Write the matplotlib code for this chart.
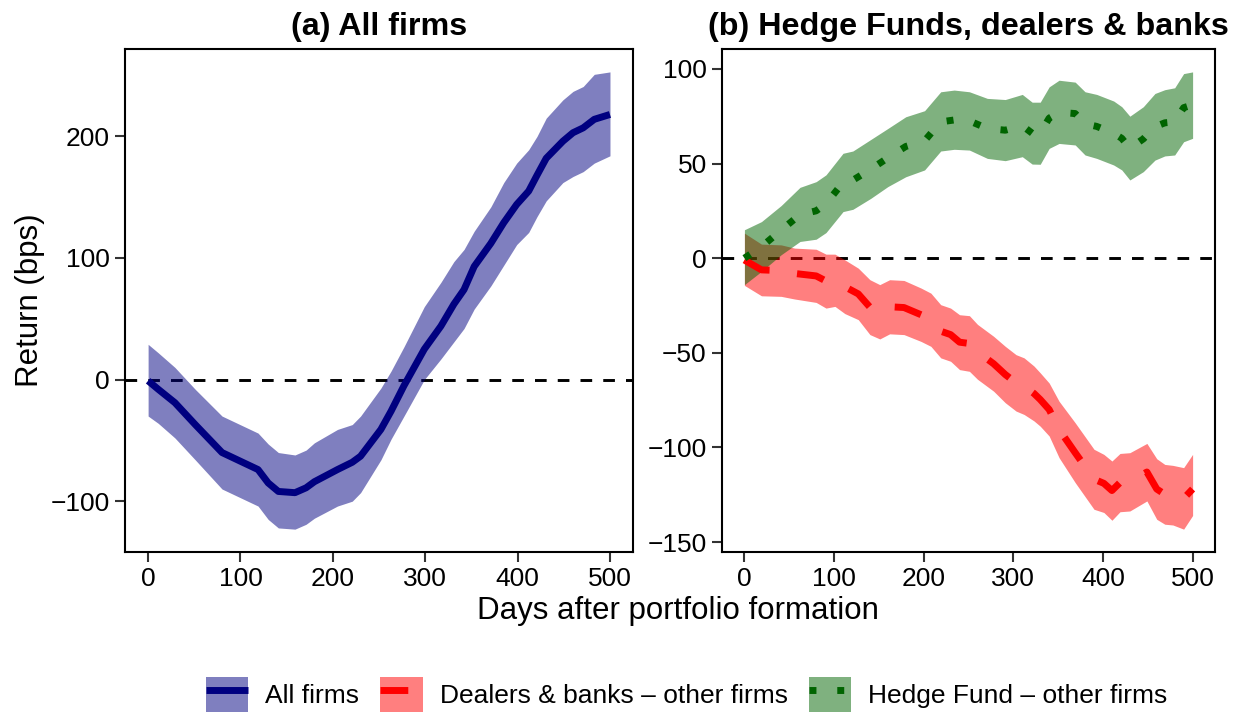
import matplotlib
matplotlib.use("Agg")
import matplotlib.pyplot as plt
from matplotlib.patches import Patch
from matplotlib.lines import Line2D

plt.rcParams['font.family'] = ['Liberation Sans', 'DejaVu Sans']

# ---------------- Panel (a): All firms ----------------
days_a = [0, 11, 29, 51, 80, 119, 130, 141, 159, 171, 180, 205, 221, 230, 252, 263, 277,
          299, 317, 331, 342, 353, 371, 385, 399, 412, 421, 431, 449, 460, 471, 483, 500]
mean_a = [-1, -8, -19, -37, -60, -74, -85, -92, -93, -89, -84, -74, -68, -63, -41, -26, -5,
          25, 44, 62, 74, 93, 112, 129, 144, 155, 168, 182, 196, 203, 207, 214, 218]
hi_a = [29, 22, 10, -8, -30, -44, -53, -60, -62, -58, -52, -41, -37, -30, -7, 7, 27,
        60, 80, 97, 107, 122, 142, 162, 178, 189, 200, 215, 230, 237, 241, 251, 253]
lo_a = [-30, -36, -48, -66, -90, -104, -115, -122, -123, -119, -114, -104, -100, -93, -66, -49, -30,
        0, 17, 31, 42, 58, 77, 94, 111, 121, 134, 147, 162, 167, 171, 178, 184]

# ---------------- Panel (b): Dealers & banks - other firms ----------------
days_d = [0, 19, 41, 56, 80, 91, 101, 112, 127, 140, 151, 162, 178, 197, 208, 219, 230, 240, 251, 260,
          278, 291, 303, 312, 323, 330, 340, 351, 369, 390, 401, 410, 419, 430, 449, 460, 469, 478, 490, 500]
mean_d = [-1, -6.2, -6.6, -8.1, -9.4, -12.1, -11.7, -15.1, -18.9, -25.9, -28.4, -25.7, -26.1, -29.9,
          -32.5, -38.6, -40.4, -44.4, -45.1, -49.5, -55.8, -61.5, -65.9, -67.6, -71.5, -74.7, -80,
          -90.5, -102.8, -116.8, -119, -122.8, -118.6, -118.2, -113, -122, -124.8, -125.2, -127, -122]
hi_d = [13.2, 7.4, 7, 5.3, 4.7, 2.1, 2.1, -0.9, -5.3, -11.4, -14, -11.4, -11.8, -15.8, -18.5, -24.6,
        -26.4, -29.9, -30.4, -35, -41.3, -46.6, -51, -52.7, -57, -60.6, -66, -75.6, -87, -101,
        -103.7, -107.2, -103.2, -102.8, -97.9, -106, -109, -109.5, -110.7, -103.7]
lo_d = [-14.4, -19.9, -20.2, -21.6, -23.4, -26.4, -25.5, -29.3, -32.5, -40.4, -42.7, -40, -40.4, -44,
        -46.6, -52.7, -54.5, -58.9, -59.8, -64, -70.3, -76.4, -80.8, -82.6, -86, -88.8, -94, -105.4,
        -118.6, -132.7, -134.4, -138.5, -134, -133.6, -128.3, -138, -140.6, -141, -143.2, -136]

# ---------------- Panel (b): Hedge Fund - other firms ----------------
days_h = [0, 19, 41, 62, 80, 91, 110, 121, 141, 160, 180, 201, 219, 234, 251, 271, 291, 310, 321, 330,
          340, 351, 369, 380, 393, 412, 421, 430, 445, 458, 469, 480, 490, 500]
mean_h = [0, 6, 14.8, 23, 25, 28.7, 40, 41.2, 47, 53, 59, 62, 72, 73, 72.5, 68.5, 67.6, 70, 66, 66,
          74, 77, 76.4, 71, 69.6, 66, 63.3, 58, 63, 69.4, 71.5, 72, 79.5, 81]
hi_h = [15, 19.3, 27.8, 37.4, 40.4, 44, 55.4, 56.6, 62.7, 68.5, 74.7, 77.9, 87.9, 88.8, 87.9, 84.4,
        83.8, 86.5, 82.4, 82.4, 90.5, 94, 93, 87.9, 86.5, 83, 80, 75, 80, 87, 89, 90, 97.5, 98.4]
lo_h = [-14, -7, 1.8, 8.8, 10, 13.5, 24.6, 25.8, 31.6, 37.8, 43, 46.6, 56.6, 57.5, 57.1, 52.7,
        51.5, 53.6, 49.7, 49.6, 58, 60.6, 59.8, 54.5, 52.7, 49.2, 46.6, 41.3, 45.7, 51.8, 54, 54.5, 61.5, 63.3]

xticks = [0, 100, 200, 300, 400, 500]
yticks_a = [-100, 0, 100, 200]
yticks_b = [-150, -100, -50, 0, 50, 100]

titles = ["(a) All firms", "(b) Hedge Funds, dealers & banks"]
labels = ["All firms", "Dealers & banks \u2013 other firms", "Hedge Fund \u2013 other firms"]

NAVY = "#000080"
RED = "#FF0000"
DKGREEN = "#006400"

fig = plt.figure(figsize=(12.44, 7.17), dpi=100)
ax1 = fig.add_axes([0.1005, 0.2301, 0.4084, 0.7015])
ax2 = fig.add_axes([0.5804, 0.2301, 0.3963, 0.7015])

LW = 5.0
TICKFS = 19
TITLEFS = 23.2
LABELFS = 22.5

# Panel a
ax1.axhline(0, color="black", lw=2.1, dashes=(4, 3.8), zorder=1)
ax1.fill_between(days_a, lo_a, hi_a, color=NAVY, alpha=0.5, linewidth=0, zorder=2)
ax1.plot(days_a, mean_a, color=NAVY, lw=LW, solid_capstyle="butt", zorder=3)

# Panel b
ax2.axhline(0, color="black", lw=2.1, dashes=(4, 3.8), zorder=1)
ax2.fill_between(days_d, lo_d, hi_d, color=RED, alpha=0.5, linewidth=0, zorder=2)
ax2.fill_between(days_h, lo_h, hi_h, color=DKGREEN, alpha=0.5, linewidth=0, zorder=2)
ax2.plot(days_d, mean_d, color=RED, lw=LW, dashes=(4, 4), dash_capstyle="butt", zorder=3)
ax2.plot(days_h, mean_h, color=DKGREEN, lw=LW, dashes=(1, 3), dash_capstyle="butt", zorder=3)

for ax, yt, t in [(ax1, yticks_a, titles[0]), (ax2, yticks_b, titles[1])]:
    ax.set_xticks(xticks)
    ax.set_yticks(yt)
    ax.margins(x=0.05, y=0.05)
    ax.tick_params(axis="both", labelsize=TICKFS, length=7, width=1.5, color="#333333",
                   labelcolor="black", pad=4)
    for s in ax.spines.values():
        s.set_linewidth(1.5)
        s.set_color("black")
    ax.set_title(t, fontsize=TITLEFS, fontweight="bold", pad=10)

ax1.set_ylabel("Return (bps)", fontsize=LABELFS)
fig.text(0.545, 0.148, "Days after portfolio formation", fontsize=LABELFS, ha="center", va="center")

handles = [
    (Patch(facecolor=NAVY, alpha=0.5, linewidth=0),
     Line2D([], [], color=NAVY, lw=LW, solid_capstyle="butt")),
    (Patch(facecolor=RED, alpha=0.5, linewidth=0),
     Line2D([], [], color=RED, lw=LW, dashes=(4, 4), dash_capstyle="butt")),
    (Patch(facecolor=DKGREEN, alpha=0.5, linewidth=0),
     Line2D([], [], color=DKGREEN, lw=LW, dashes=(1, 3), dash_capstyle="butt")),
]
fig.legend(handles, labels, loc="center", bbox_to_anchor=(0.552, 0.031), ncol=3,
           frameon=False, fontsize=19, handlelength=1.6, handleheight=1.65,
           handletextpad=0.65, columnspacing=0.8, borderaxespad=0)

fig.savefig("out.png", dpi=100)
